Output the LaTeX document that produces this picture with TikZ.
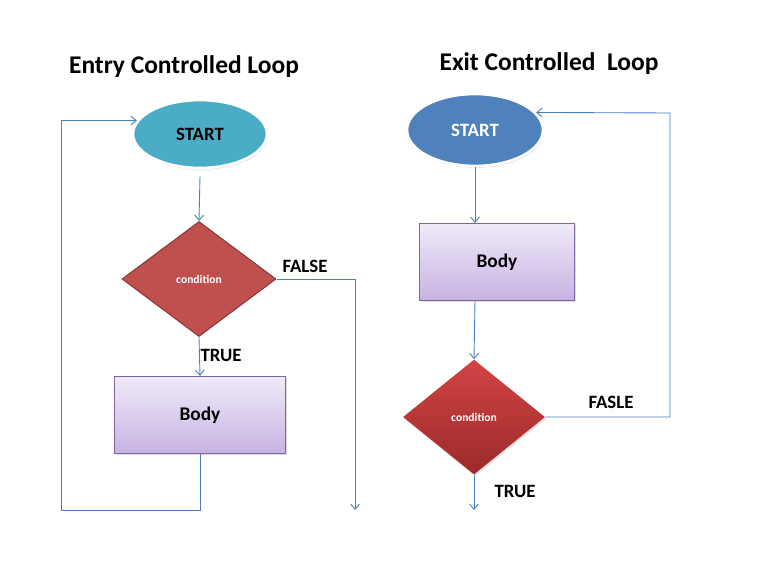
\documentclass[tikz,border=0pt]{standalone}
\usepackage{fontspec}
\setmainfont{Carlito}
\usepackage{xcolor}
\usepackage{tikz}
\usetikzlibrary{shapes.geometric, arrows.meta, shadows}

\definecolor{wireblue}{HTML}{4A7EBB}
\definecolor{tealfill}{HTML}{4BACC6}
\definecolor{bluefill}{HTML}{4F81BD}
\definecolor{redfill}{HTML}{C0504D}
\definecolor{redborder}{HTML}{8C3836}
\definecolor{redtop}{HTML}{D24444}
\definecolor{redbottom}{HTML}{9C2A2A}
\definecolor{purpleborder}{HTML}{8064A2}
\definecolor{lilactop}{HTML}{F0EAF8}
\definecolor{lilacbottom}{HTML}{C7B3E2}

\begin{document}
\begin{tikzpicture}[
    x=0.02cm, y=-0.02cm,
    startnode/.style={ellipse, draw=white, line width=1.5pt, inner sep=0pt, font=\bfseries\fontsize{10.7}{12}\selectfont,
        drop shadow={opacity=0.25, shadow xshift=0.6pt, shadow yshift=-1pt}},
    bodybox/.style={rectangle, draw=purpleborder, line width=0.6pt, top color=lilactop, bottom color=lilacbottom,
        minimum height=1.54cm, font=\bfseries\fontsize{11}{13}\selectfont,
        drop shadow={opacity=0.25, shadow xshift=0.6pt, shadow yshift=-1pt}},
    decision/.style={diamond, inner sep=0pt, minimum height=2.3cm, text=white, font=\bfseries\fontsize{6.6}{8}\selectfont},
    tag/.style={font=\bfseries\fontsize{10.7}{12}\selectfont},
    heading/.style={font=\bfseries\fontsize{14.5}{17}\selectfont},
    arrow/.style={-{Straight Barb[length=3pt,width=5pt]}, draw=wireblue, line width=0.5pt}
]
    \useasboundingbox (0,0) rectangle (764,567);

    % entry controlled loop
    \node[heading] at (184,67) (ltitle) {Entry Controlled Loop};
    \node[startnode, fill=tealfill, minimum width=2.68cm, minimum height=1.36cm] at (200,134) (lstart) {START};
    \node[decision, fill=redfill, draw=redborder, line width=0.6pt, minimum width=3.08cm] at (199,279) (ldiam) {condition};
    \node[bodybox, minimum width=3.42cm] at (200,415) (lbody) {Body};
    \node[tag] at (305,266) (lfalse) {FALSE};
    \node[tag] at (221,355) (ltrue) {TRUE};
    \coordinate (lloop) at (61,510);
    \coordinate (lend) at (355,510);
    \draw[arrow] (lstart.south) ++(0,7) -- (ldiam.north);
    \draw[arrow] (ldiam.south) -- (lbody.north);
    \draw[arrow] (ldiam.east) -| (lend);
    \draw[arrow] (lbody.south) |- (lloop) |- (lstart.168);

    % exit controlled loop
    \node[heading] at (549,64) (rtitle) {Exit Controlled\ \ Loop};
    \node[startnode, fill=bluefill, text=white, minimum width=2.72cm, minimum height=1.44cm] at (475,130) (rstart) {START};
    \node[bodybox, minimum width=3.1cm] at (497,262) (rbody) {Body};
    \node[decision, top color=redtop, bottom color=redbottom, minimum width=2.84cm,
        drop shadow={opacity=0.25, shadow xshift=0.6pt, shadow yshift=-1pt}] at (474,417) (rdiam) {condition};
    \node[tag] at (611,402) (rfalse) {FASLE};
    \node[tag] at (515,491) (rtrue) {TRUE};
    \coordinate (rloop) at (670,113);
    \coordinate (rend) at (474,510);
    \draw[arrow] (rstart.south) -- (rstart.south |- rbody.north);
    \draw[arrow] (rstart.south |- rbody.south) -- (rdiam.north);
    \draw[arrow] (rdiam.east) -| (rloop) -- (rstart.16);
    \draw[arrow] (rdiam.south) -- (rend);
\end{tikzpicture}
\end{document}
